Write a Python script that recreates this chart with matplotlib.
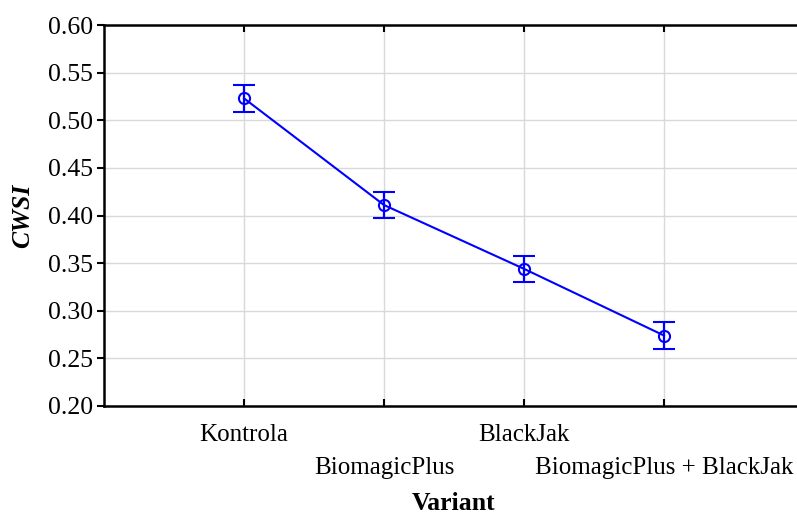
import matplotlib.pyplot as plt

plt.rcParams['font.family'] = ['Liberation Serif', 'DejaVu Serif']

variants = ['Kontrola', 'BiomagicPlus', 'BlackJak', 'BiomagicPlus + BlackJak']
cwsi_mean = [0.523, 0.411, 0.344, 0.274]
cwsi_err = [0.014, 0.014, 0.014, 0.014]
yticks = [0.20, 0.25, 0.30, 0.35, 0.40, 0.45, 0.50, 0.55, 0.60]

fig = plt.figure(figsize=(7.97, 5.2), dpi=100)
ax = fig.add_axes([104 / 797, 114 / 520, 700 / 797, 381 / 520])

x = list(range(len(variants)))
ax.errorbar(x, cwsi_mean, yerr=cwsi_err, color='#0000ff', lw=1.5,
            marker='o', ms=8, mfc='none', mec='#0000ff', mew=1.5,
            capsize=8, capthick=1.6, elinewidth=1.6, zorder=3)

ax.set_xlim(-1, 4)
ax.set_ylim(0.20, 0.60)
ax.set_yticks(yticks)
ax.set_yticklabels(['%.2f' % v for v in yticks])
ax.set_xticks(x)
ax.set_xticklabels(variants)

ax.grid(True, color='#d9d9d9', lw=1.0, zorder=0)
ax.tick_params(axis='x', direction='in', top=True, length=5, width=1.5,
               labelsize=18, pad=13, color='black')
ax.tick_params(axis='y', direction='out', length=5, width=1.5,
               labelsize=18.5, pad=3)
# alternate tick labels on two rows
for i, t in enumerate(ax.xaxis.get_major_ticks()):
    if i % 2 == 1:
        t.set_pad(13 + 24)
for s in ['left', 'bottom', 'top']:
    ax.spines[s].set_linewidth(1.8)
ax.spines['right'].set_visible(False)

ax.set_xlabel('Variant', fontsize=18.5, fontweight='bold', labelpad=9)
ax.set_ylabel('CWSI', fontsize=18.5, fontweight='bold', style='italic', labelpad=10)

fig.savefig('out.png', dpi=100)
